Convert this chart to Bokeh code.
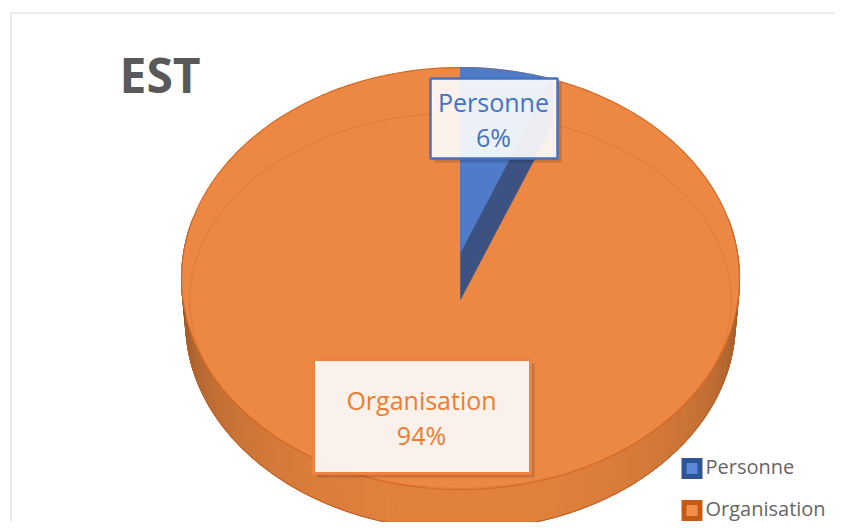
import numpy as np
from bokeh.plotting import figure
from bokeh.models import Range1d
from bokeh.core.properties import value
from bokeh.embed import file_html
from bokeh.resources import INLINE

# ---- data ----
categories = ["Personne", "Organisation"]
shares = [6, 94]  # percent
title_text = "EST"
top_colors = ["#4F7BC8", "#EC8843"]
label_text_colors = ["#4472C4", "#ED7D31"]
legend_outer = ["#2F5597", "#C55A11"]
legend_inner = ["#5B87D6", "#F0904E"]

# ---- figure in picture-pixel coordinates ----
p = figure(width=835, height=522, x_range=Range1d(0, 835), y_range=Range1d(522, 0),
           output_backend="svg", toolbar_location=None, min_border=0)
p.axis.visible = False
p.grid.visible = False
p.outline_line_color = None
p.background_fill_color = "white"
p.border_fill_color = "white"

# chart area frame
p.multi_line(xs=[[10.5, 10.5, 860]], ys=[[560, 12.5, 12.5]], line_color="#D9D9D9", line_width=1)

# ---- 3D pie geometry (perspective projection of a circle) ----
CX, CY = 460.0, 253.0
A, B, K = 277.0, 208.0, 0.1186
DEPTH = 44.0
BOTTOM_SCALE = 0.985


def proj(theta_deg, dy=0.0, s=1.0):
    t = np.radians(np.asarray(theta_deg, dtype=float))
    X = np.sin(t)
    Z = np.cos(t)
    d = 1 + K * Z
    return CX + s * A * X / d, CY + dy - s * B * Z / d


def base_y(y, size):
    # place alphabetic baseline at y
    return y - 0.43 * size


# cumulative angles from values (clockwise from top)
total = float(sum(shares))
angles = np.cumsum([0] + [s / total * 360.0 for s in shares])

# base of side wall (uniform), then shaded strips
sx, sy = proj(np.arange(0, 360.5, 1.0), DEPTH, BOTTOM_SCALE)
p.patch(x=sx, y=sy, fill_color="#D9803F", line_color="#B8612A", line_width=1)

base = np.array([226, 130, 62])
xs_side, ys_side, cols = [], [], []
step = 1.0
for a0 in np.arange(80, 280, step):
    a1 = a0 + step
    tx, ty = proj([a0, a1])
    bx, by = proj([a1, a0], DEPTH, BOTTOM_SCALE)
    xs_side.append(list(tx) + list(bx))
    ys_side.append(list(ty) + list(by))
    am = np.radians(a0 + step / 2)
    f = 0.45 + 0.55 * max(0.0, -np.cos(am)) ** 0.5
    c = np.clip(base * f, 0, 255).astype(int)
    cols.append("#%02x%02x%02x" % tuple(c))
p.patches(xs=xs_side, ys=ys_side, fill_color=cols, line_color=cols, line_width=1.2)

bx, by = proj(np.arange(84, 277, 1.0), DEPTH, BOTTOM_SCALE)
p.line(x=bx, y=by, line_color="#B8612A", line_width=1)

# top face (orange slice covers everything, blue drawn over)
tx, ty = proj(np.arange(0, 360.5, 1.0))
p.patch(x=tx, y=ty, fill_color=top_colors[1], line_color="#D46A25", line_width=1.2)

# bevel line
p.ellipse(x=[460], y=[300], width=[542], height=[376], fill_color=None,
          line_color="#D66E2A", line_alpha=0.5, line_width=1)

# blue slice top face
a0, a1 = angles[0], angles[1]
wa = np.append(np.arange(a0, a1, 0.5), a1)
wx, wy = proj(wa)
p.patch(x=[CX] + list(wx), y=[CY] + list(wy), fill_color=top_colors[0],
        line_color="#4472C4", line_width=0.8)

# blue slice cut face
ex, ey = proj(a1)
ebx, eby = proj(a1, DEPTH + 2)
p.patch(x=[CX, CX, float(ebx), float(ex)], y=[CY, CY + DEPTH + 2, float(eby), float(ey)],
        fill_color="#3C5283", line_color="#3C5283", line_width=0.5)

# ---- data labels ----
boxes_l = [430, 313]
boxes_r = [557, 530]
boxes_t = [78, 359]
boxes_b = [158, 473]
p.quad(left=[b + 4 for b in boxes_l], right=[b + 4 for b in boxes_r],
       top=[b + 4 for b in boxes_t], bottom=[b + 4 for b in boxes_b],
       fill_color="black", fill_alpha=0.15, line_color=None)
p.quad(left=boxes_l, right=boxes_r, top=boxes_t, bottom=boxes_b,
       fill_color="white", fill_alpha=0.9,
       line_color=["#4472C4", "#EE8240"], line_width=[2.5, 3])

LS = 25
lab_x = [493, 421]
lab_y1 = [112, 410]
lab_y2 = [147, 445]
for i in range(2):
    p.text(x=[lab_x[i], lab_x[i]],
           y=[base_y(lab_y1[i], LS), base_y(lab_y2[i], LS)],
           text=[categories[i], f"{shares[i]}%"],
           text_font=value("Open Sans"), text_font_size=f"{LS}px",
           text_color=label_text_colors[i], text_align="center",
           text_baseline="alphabetic")

# ---- title ----
TS = 48
p.text(x=[119], y=[base_y(95, TS)], text=[title_text], text_font=value("Open Sans"),
       text_font_size=f"{TS}px", text_font_style="bold", text_color="#595959",
       text_baseline="alphabetic")

# ---- legend ----
GS = 20
lg_y = [468, 510]
p.quad(left=[681, 681], right=[702, 702], top=[y - 10.5 for y in lg_y],
       bottom=[y + 10.5 for y in lg_y], fill_color=legend_outer, line_color=None)
p.quad(left=[686, 686], right=[697, 697], top=[y - 5.5 for y in lg_y],
       bottom=[y + 5.5 for y in lg_y], fill_color=legend_inner, line_color=None)
p.text(x=[705, 705], y=[base_y(y + 7, GS) for y in lg_y], text=categories,
       text_font=value("Open Sans"), text_font_size=f"{GS}px", text_color="#666666",
       text_baseline="alphabetic")

open("out.html", "w").write(file_html(p, INLINE))
